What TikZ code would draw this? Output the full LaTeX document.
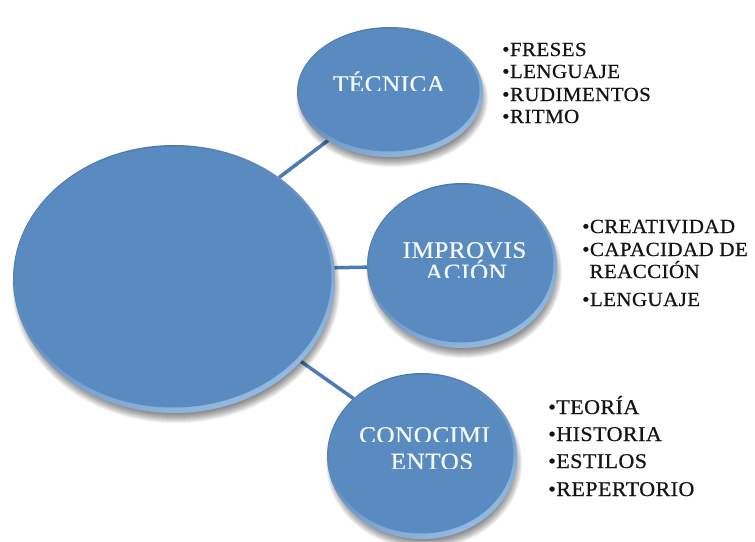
\documentclass[tikz,border=0pt]{standalone}
\usepackage{fontspec}
\usetikzlibrary{shapes.geometric}
\newfontfamily\bubfont{Liberation Serif}[FakeStretch=1.05,LetterSpace=2,FakeBold=0.6]
\definecolor{bubfill}{HTML}{5A8BC0}
\definecolor{rimdark}{HTML}{4874A6}
\definecolor{rimlight}{HTML}{93BAE2}
\definecolor{linkcol}{HTML}{4A7BB4}
\definecolor{labcol}{HTML}{F5F8FC}
\definecolor{listcol}{HTML}{141414}
\newcommand\drawbubble[3]{%
  \foreach \k in {0,...,9}{
    \fill[black, opacity=0.055] ([xshift=2pt,yshift=-7pt]#1.center) ellipse [x radius={(#2+3-\k)*1pt}, y radius={(#3+3-\k)*1pt}];
  }
  \shade[top color=rimdark, bottom color=rimlight, shading angle=30] (#1.center) ellipse [x radius=#2pt, y radius=#3pt];
  \fill[bubfill] ([xshift=-1pt,yshift=2pt]#1.center) ellipse [x radius={(#2-2.5)*1pt}, y radius={(#3-3.5)*1pt}];
}
\tikzset{
  hub/.style={ellipse, inner sep=0pt, outer sep=0pt},
  link/.style={draw=linkcol, line width=3.5pt},
  lab/.style={font=\bubfont\fontsize{24}{28}\selectfont, text=labcol, anchor=base, inner sep=0pt},
  lst/.style={font=\bubfont\fontsize{20}{24}\selectfont, text=listcol, anchor=base west, inner sep=0pt},
  lstb/.style={lst, font=\bubfont\fontsize{21}{25}\selectfont}
}
\begin{document}
\begin{tikzpicture}[x=1pt,y=-1pt]
\useasboundingbox (0,0) rectangle (755,541);
\fill[white] (0,0) rectangle (755,541);
% invisible shape nodes
\node[hub, minimum width=322pt, minimum height=268pt] (big) at (174,279) {};
\node[hub, minimum width=186pt, minimum height=130pt] (tec) at (390,92) {};
\node[hub, minimum width=190pt, minimum height=165pt] (imp) at (462,265.5) {};
\node[hub, minimum width=190pt, minimum height=166pt] (con) at (422,456) {};
% connectors
\draw[link] (big.44) -- (tec.218);
\draw[link] (big.4) -- (imp.181);
\draw[link] (big.-33) -- (con.140);
% bubbles
\drawbubble{big}{161}{134}
\drawbubble{tec}{93}{65}
\drawbubble{imp}{95}{82.5}
\drawbubble{con}{95}{83}
% labels (clipped at the bottom as in the reference)
\begin{scope}\clip (300,55) rectangle (480,90);
  \node[lab] (tecA) at (389,92) {TÉCNICA};
\end{scope}
\begin{scope}\clip (380,232) rectangle (550,257);
  \node[lab] (impA) at (464.5,258) {IMPROVIS};
\end{scope}
\begin{scope}\clip (380,258) rectangle (550,277);
  \node[lab, text height=15pt] (impB) at (466,280.5) {ACIÓN};
\end{scope}
\begin{scope}\clip (340,415) rectangle (510,441);
  \node[lab] (conA) at (424.5,443) {CONOCIMI};
\end{scope}
\begin{scope}\clip (340,445) rectangle (510,468);
  \node[lab] (conB) at (432,469.5) {ENTOS};
\end{scope}
% lists
\node[lst] (t1) at (502,56) {•FRESES};
\node[lst] (t2) at (502,78) {•LENGUAJE};
\node[lst] (t3) at (502,101) {•RUDIMENTOS};
\node[lst] (t4) at (502,123) {•RITMO};
\node[lst] (i1) at (582,233) {•CREATIVIDAD};
\node[lst] (i2) at (582,256) {•CAPACIDAD DE};
\node[lst] (i3) at (582,278) {\hphantom{•}REACCIÓN};
\node[lst] (i4) at (582,306) {•LENGUAJE};
\node[lstb] (c1) at (548,414) {•TEORÍA};
\node[lstb] (c2) at (548,441) {•HISTORIA};
\node[lstb] (c3) at (548,468) {•ESTILOS};
\node[lstb] (c4) at (548,496) {•REPERTORIO};
\end{tikzpicture}
\end{document}
